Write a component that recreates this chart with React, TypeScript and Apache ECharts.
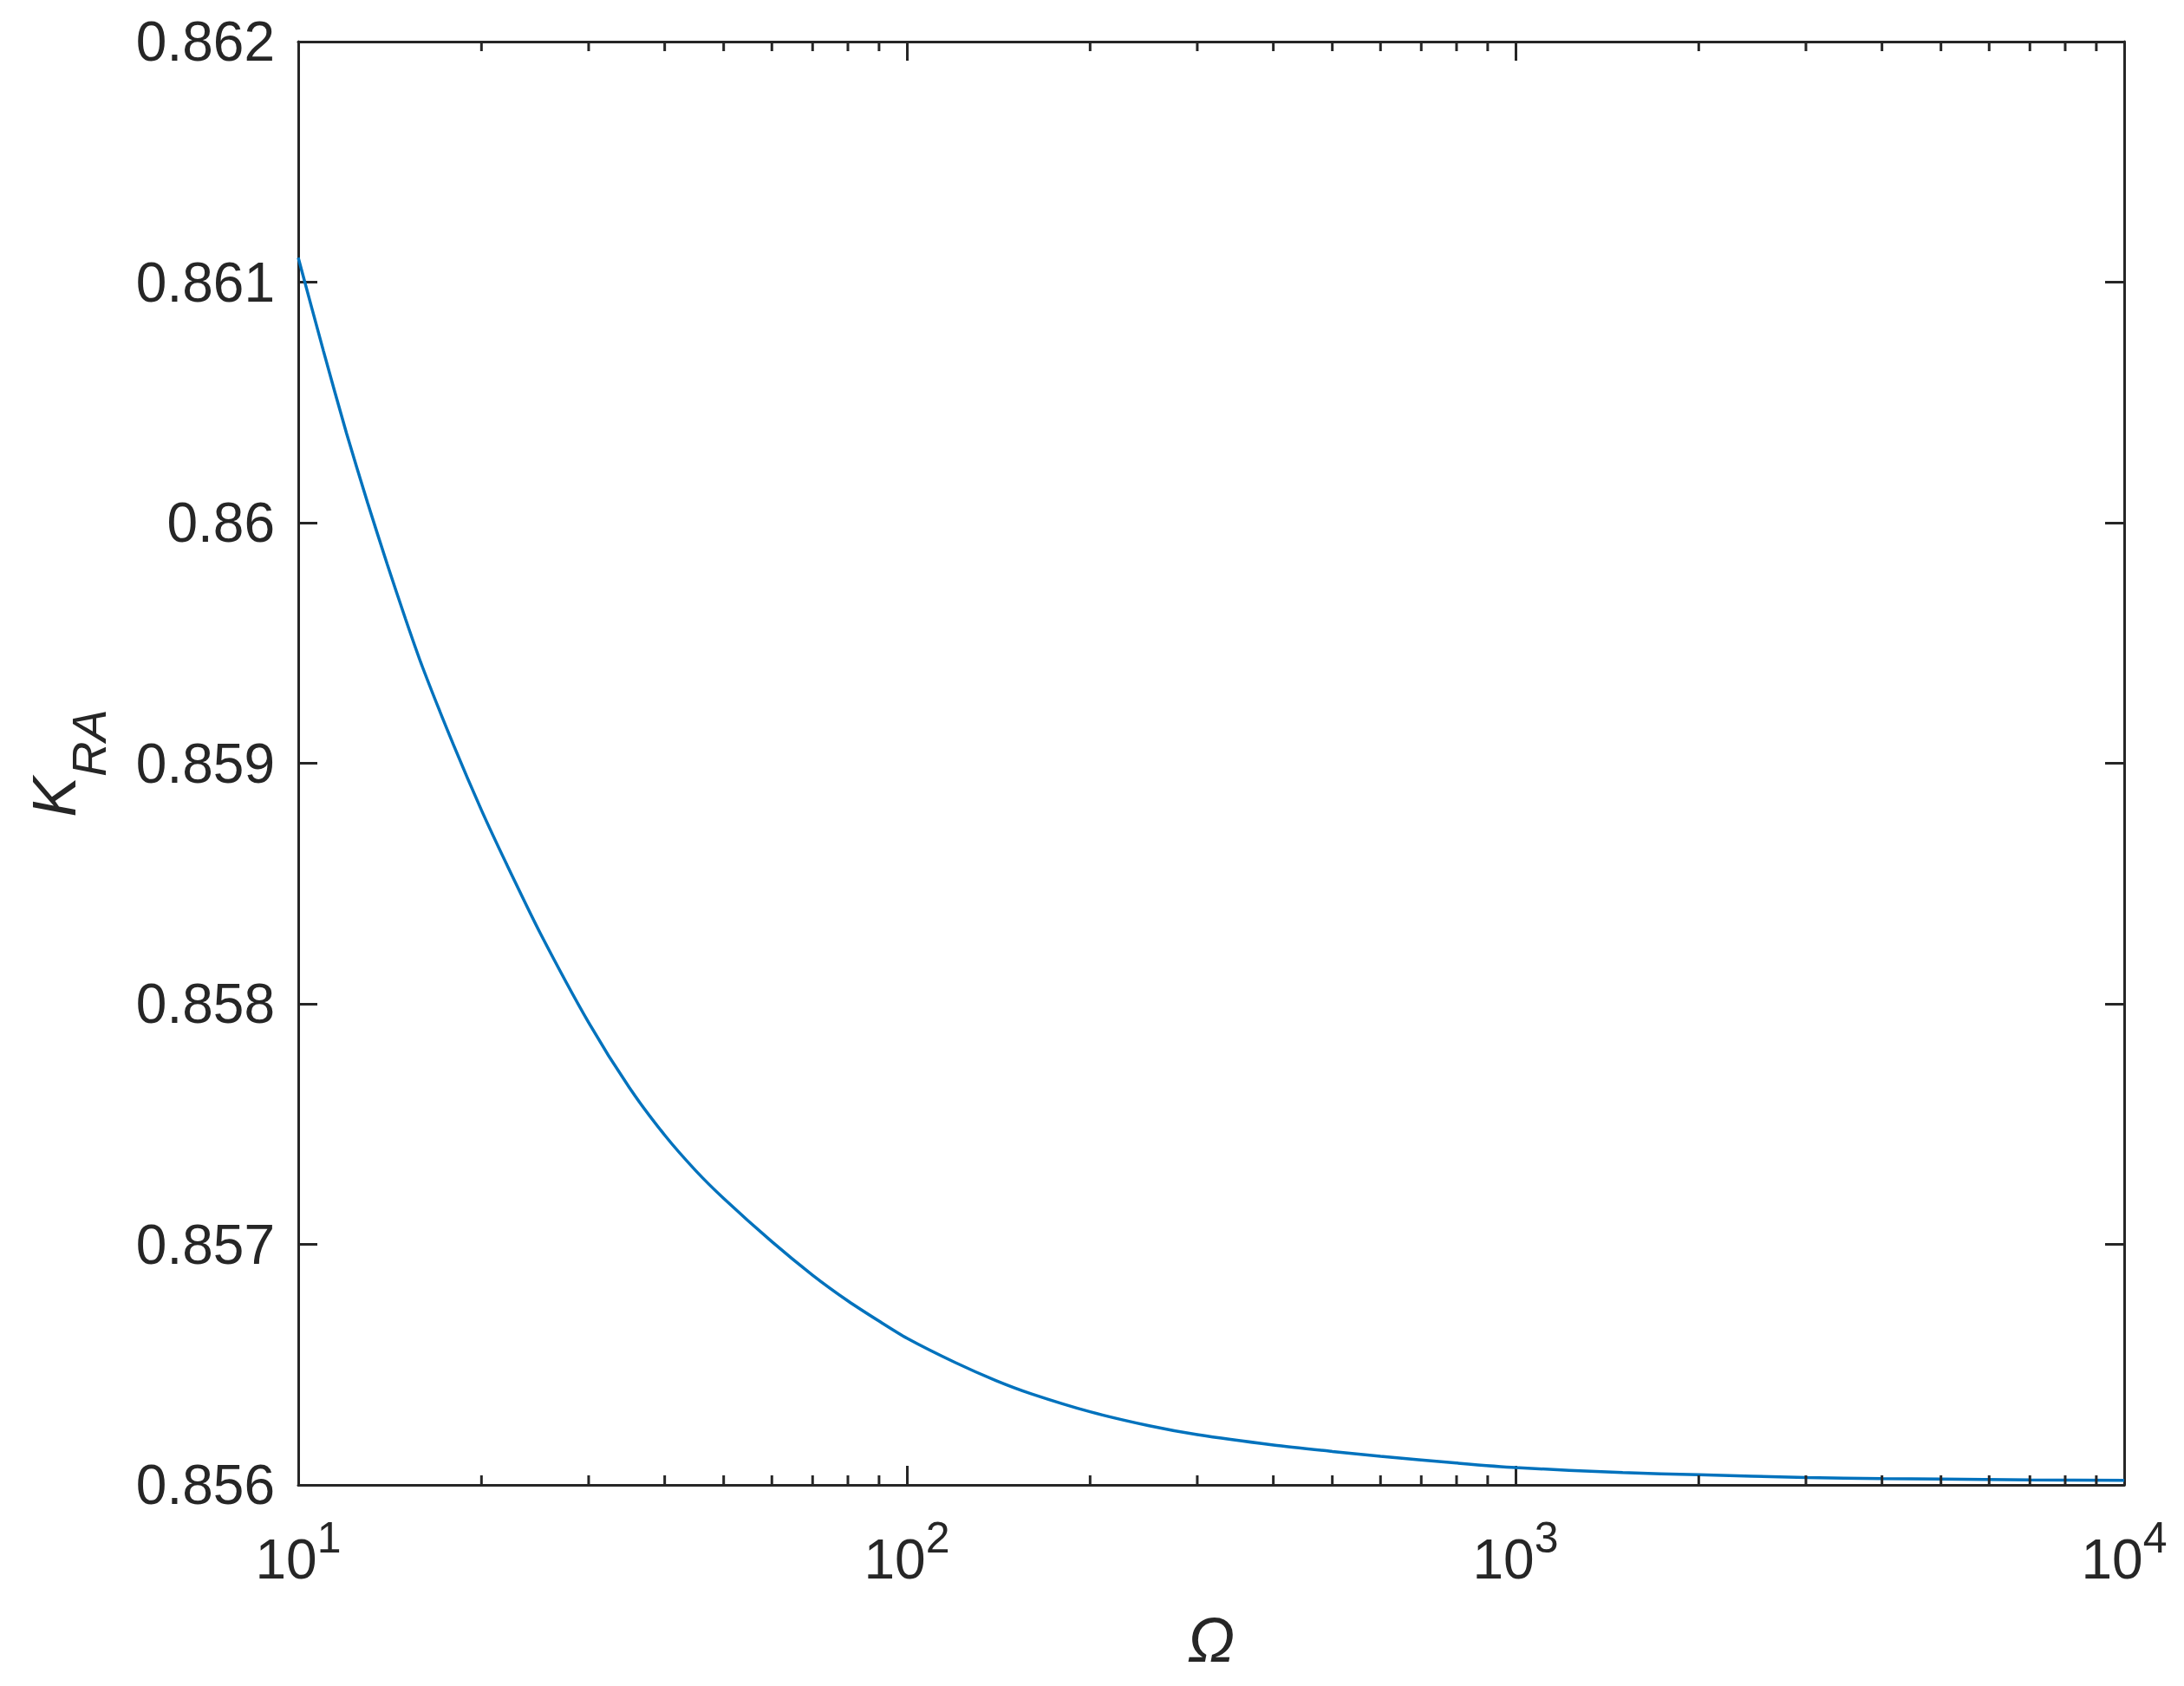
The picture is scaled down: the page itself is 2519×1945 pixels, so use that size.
import React, { useEffect, useRef } from 'react'
import * as echarts from 'echarts'

// values
const omega = [10, 11, 12, 13, 14, 15, 16, 18, 20, 22, 25, 30, 35, 40, 45, 50, 60, 70, 80, 90, 100, 120, 140, 160, 200, 250, 300, 400, 500, 600, 800, 1000, 1500, 2000, 3000, 4000, 5000, 7000, 10000]
const kra = [
  0.861102, 0.860714, 0.860373, 0.860083, 0.859828, 0.859601, 0.8594, 0.859075, 0.858805, 0.85858,
  0.858292, 0.857922, 0.857651, 0.857454, 0.857306, 0.857191, 0.857011, 0.856872, 0.856765, 0.856681,
  0.85661, 0.856509, 0.856434, 0.856379, 0.856304, 0.856246, 0.856209, 0.856166, 0.856139, 0.856119,
  0.856091, 0.856072, 0.856051, 0.856042, 0.856031, 0.856026, 0.856024, 0.856021, 0.856019
]
const minorTicks = [20, 30, 40, 50, 60, 70, 80, 90, 200, 300, 400, 500, 600, 700, 800, 900, 2000, 3000, 4000, 5000, 6000, 7000, 8000, 9000]

const yMin = 0.856
const yMax = 0.862
const yStep = 0.001

const ink = '#262626'
const font = '"Liberation Sans", Arial, Helvetica, sans-serif'

export default function App() {
  const chartRef = useRef<HTMLDivElement>(null)

  useEffect(() => {
    if (!chartRef.current) return
    const chart = echarts.init(chartRef.current, undefined, { renderer: 'svg' })

    const axisLine = { show: true, onZero: false, lineStyle: { color: ink, width: 3 } }
    const tick = { show: true, inside: true, length: 22, lineStyle: { color: ink, width: 3 } }

    const option: echarts.EChartsOption = {
      animation: false,
      backgroundColor: '#ffffff',
      grid: { left: 344, right: 69, top: 48, bottom: 232, containLabel: false },
      xAxis: [
        {
          type: 'log',
          logBase: 10,
          min: 10,
          max: 10000,
          position: 'bottom',
          axisLine,
          axisTick: tick,
          splitLine: { show: false },
          axisLabel: {
            margin: 36,
            color: ink,
            fontFamily: font,
            formatter: (v: number) => `{b|10}{s|${Math.round(Math.log10(v))}}`,
            rich: {
              b: { fontSize: 64, fontFamily: font, color: ink },
              s: { fontSize: 50, fontFamily: font, color: ink, padding: [0, 0, 50, 0] }
            }
          },
          name: 'Ω',
          nameLocation: 'middle',
          nameGap: 143,
          nameTextStyle: { fontSize: 72, fontStyle: 'italic', fontFamily: font, color: ink }
        },
        {
          type: 'log',
          logBase: 10,
          min: 10,
          max: 10000,
          position: 'top',
          axisLine,
          axisTick: tick,
          axisLabel: { show: false },
          splitLine: { show: false }
        }
      ],
      yAxis: [
        {
          type: 'value',
          min: yMin,
          max: yMax,
          interval: yStep,
          position: 'left',
          axisLine,
          axisTick: tick,
          splitLine: { show: false },
          axisLabel: {
            margin: 27,
            fontSize: 64,
            fontFamily: font,
            color: ink,
            formatter: (v: number) => String(+v.toFixed(3))
          },
          name: '{k|K}{sub|RA}',
          nameLocation: 'middle',
          nameRotate: 90,
          nameGap: 214,
          nameTextStyle: {
            rich: {
              k: { fontSize: 70, fontStyle: 'italic', fontFamily: font, color: ink },
              sub: { fontSize: 56, fontStyle: 'italic', fontFamily: font, color: ink, padding: [78, 0, 0, 0] }
            }
          }
        },
        {
          type: 'value',
          min: yMin,
          max: yMax,
          interval: yStep,
          position: 'right',
          axisLine,
          axisTick: tick,
          axisLabel: { show: false },
          splitLine: { show: false }
        }
      ],
      series: [
        {
          type: 'line',
          xAxisIndex: 0,
          yAxisIndex: 0,
          data: omega.map((o, i) => [o, kra[i]]),
          showSymbol: false,
          smooth: 0.25,
          lineStyle: { color: '#0072BD', width: 3.5 },
          z: 3
        },
        {
          // minor ticks of the log axis at 2..9 x 10^n, bottom and top
          type: 'custom',
          xAxisIndex: 0,
          yAxisIndex: 0,
          silent: true,
          clip: false,
          data: minorTicks.map((v) => [v]),
          encode: { x: 0 },
          renderItem: (params: any, api: any) => {
            const v = api.value(0)
            const b = api.coord([v, yMin])
            const t = api.coord([v, yMax])
            const style = { stroke: ink, lineWidth: 3 }
            return {
              type: 'group',
              children: [
                { type: 'line', shape: { x1: b[0], y1: b[1], x2: b[0], y2: b[1] - 11 }, style },
                { type: 'line', shape: { x1: t[0], y1: t[1], x2: t[0], y2: t[1] + 11 }, style }
              ]
            }
          },
          z: 4
        }
      ]
    }

    chart.setOption(option)
    return () => {
      chart.dispose()
    }
  }, [])

  return (
    <div
      ref={chartRef}
      style={{ position: 'fixed', left: 0, top: 0, width: 2519, height: 1945 }}
    />
  )
}
